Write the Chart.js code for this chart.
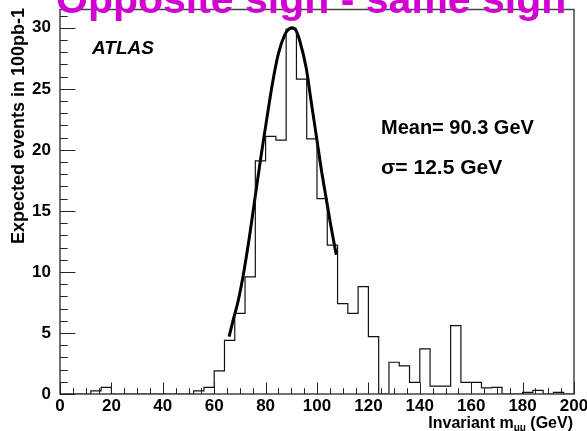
<!DOCTYPE html>
<html>
<head>
<meta charset="utf-8">
<script src="https://cdn.jsdelivr.net/npm/chart.js@4"></script>
<style>
  html, body { margin: 0; padding: 0; background: #fff; }
  canvas { display: block; }
</style>
</head>
<body>
<canvas id="chart" width="587" height="431"></canvas>
<script>
// Histogram bin edges (GeV), 4 GeV bins
const binEdges = [0, 4, 8, 12, 16, 20, 24, 28, 32, 36, 40, 44, 48, 52, 56, 60, 64, 68, 72, 76,
  80, 84, 88, 92, 96, 100, 104, 108, 112, 116, 120, 124, 128, 132, 136, 140, 144, 148, 152, 156,
  160, 164, 168, 172, 176, 180, 184, 188, 192, 196, 200];

// Expected events per bin
const binCounts = [0, 0, 0, 0.25, 0.55, 0, 0, 0, 0, 0, 0, 0, 0, 0.25, 0.55, 1.9, 4.4, 6.6, 9.6, 19.1,
  21.1, 20.8, 29.9, 25.8, 20.9, 16.0, 12.2, 7.4, 6.6, 8.8, 4.7, 0, 2.6, 2.3, 0.95, 3.7, 0.65, 0.65, 5.6, 0.95,
  0.95, 0.5, 0.55, 0, 0, 0.14, 0.3, 0, 0.14, 0];

// Gaussian fit curve
const fitX = [65.8, 67.3, 69.3, 71.2, 73.8, 75.7, 78.3, 80.5, 82.8, 85.0, 87.4, 89.0, 90.3, 91.8,
  93.2, 95.8, 97.7, 99.7, 101.6, 103.6, 105.2, 107.5];
const fitY = [4.7, 6.0, 7.6, 9.6, 13.0, 15.8, 19.6, 22.6, 25.6, 27.9, 29.4, 29.9, 30.0, 29.8,
  29.0, 26.7, 24.0, 21.2, 18.5, 16.0, 14.0, 11.4];

// Axis ticks
const xMajorTicks = [0, 20, 40, 60, 80, 100, 120, 140, 160, 180, 200];
const yMajorTicks = [0, 5, 10, 15, 20, 25, 30];

const FONT = "'Liberation Sans', Arial, sans-serif";

// build step outline points (value of a bin holds until next edge)
const histPoints = binEdges.map((e, i) => ({
  x: e,
  y: i < binCounts.length ? binCounts[i] : binCounts[binCounts.length - 1],
}));
const fitPoints = fitX.map((x, i) => ({ x: x, y: fitY[i] }));

// Frame, inward ticks and extra text (ROOT style)
const rootStyle = {
  id: "rootStyle",
  afterDatasetsDraw(chart) {
    const ctx = chart.ctx;
    const area = chart.chartArea;
    const xs = chart.scales.x;
    const ys = chart.scales.y;
    ctx.save();

    // frame
    ctx.strokeStyle = "#444";
    ctx.lineWidth = 1.5;
    ctx.strokeRect(area.left, area.top, area.right - area.left, area.bottom - area.top);

    // ticks
    ctx.lineWidth = 1;
    ctx.strokeStyle = "#222";
    const xMajLen = 11.5, yMajLen = 15.4;
    ctx.beginPath();
    for (let v = 0; v <= 200; v += 5) {
      const px = Math.round(xs.getPixelForValue(v)) + 0.5;
      const len = xMajorTicks.includes(v) ? xMajLen : xMajLen / 2;
      ctx.moveTo(px, area.bottom);
      ctx.lineTo(px, area.bottom - len);
    }
    for (let v = 0; v <= ys.max; v += 1) {
      const py = Math.round(ys.getPixelForValue(v)) + 0.5;
      const len = yMajorTicks.includes(v) ? yMajLen : yMajLen / 2;
      ctx.moveTo(area.left, py);
      ctx.lineTo(area.left + len, py);
    }
    ctx.stroke();

    // title (cut at top)
    ctx.fillStyle = "#d200d2";
    ctx.font = "bold 41px " + FONT;
    ctx.textAlign = "left";
    ctx.textBaseline = "alphabetic";
    ctx.fillText("Opposite sign - same sign", 56, 13);

    ctx.fillStyle = "#000";
    ctx.font = "italic bold 19px " + FONT;
    ctx.fillText("ATLAS", 92, 54);

    ctx.font = "bold 20px " + FONT;
    ctx.fillText("Mean= 90.3 GeV", 381, 134);
    ctx.font = "bold 21px " + FONT;
    ctx.fillText("\u03c3= 12.5 GeV", 381, 174);

    // y axis title
    ctx.save();
    ctx.translate(24, 8);
    ctx.rotate(-Math.PI / 2);
    ctx.font = "bold 18px " + FONT;
    ctx.textAlign = "right";
    ctx.fillText("Expected events in 100pb-1", 0, 0);
    ctx.restore();

    // x axis title with subscript
    const base = 428;
    ctx.textAlign = "left";
    const partA = "Invariant m";
    const sub = "\u03bc\u03bc";
    const partB = " (GeV)";
    ctx.font = "bold 16px " + FONT;
    const wA = ctx.measureText(partA).width;
    const wB = ctx.measureText(partB).width;
    ctx.font = "bold 10px " + FONT;
    const wS = ctx.measureText(sub).width;
    const x0 = 573 - (wA + wS + wB);
    ctx.font = "bold 16px " + FONT;
    ctx.fillText(partA, x0, base);
    ctx.font = "bold 10px " + FONT;
    ctx.fillText(sub, x0 + wA, base + 3);
    ctx.font = "bold 16px " + FONT;
    ctx.fillText(partB, x0 + wA + wS, base);

    ctx.restore();
  },
};

new Chart(document.getElementById("chart"), {
  type: "line",
  data: {
    datasets: [
      {
        label: "hist",
        data: histPoints,
        stepped: "before",
        borderColor: "#111",
        borderWidth: 1.2,
        pointRadius: 0,
        fill: false,
      },
      {
        label: "fit",
        data: fitPoints,
        borderColor: "#000",
        borderWidth: 3,
        pointRadius: 0,
        cubicInterpolationMode: "monotone",
        fill: false,
      },
    ],
  },
  options: {
    responsive: false,
    animation: false,
    layout: { padding: { top: 9.5, right: 13, left: 0, bottom: 0 } },
    plugins: { legend: { display: false }, tooltip: { enabled: false } },
    scales: {
      x: {
        type: "linear",
        min: 0,
        max: 200,
        grid: { display: false, drawTicks: false },
        border: { display: false },
        ticks: {
          stepSize: 20,
          padding: 2,
          color: "#000",
          font: { family: FONT, size: 17, weight: "bold" },
          maxRotation: 0,
        },
        afterFit(scale) {
          scale.height = 37;
          scale.paddingLeft = 0;
          scale.paddingRight = 0;
        },
      },
      y: {
        type: "linear",
        min: 0,
        max: 31.5,
        grid: { display: false, drawTicks: false },
        border: { display: false },
        ticks: {
          stepSize: 5,
          includeBounds: false,
          padding: 9,
          color: "#000",
          font: { family: FONT, size: 17, weight: "bold" },
        },
        afterFit(scale) {
          scale.width = 60;
          scale.paddingTop = 0;
          scale.paddingBottom = 0;
        },
      },
    },
  },
  plugins: [rootStyle],
});
</script>
</body>
</html>
